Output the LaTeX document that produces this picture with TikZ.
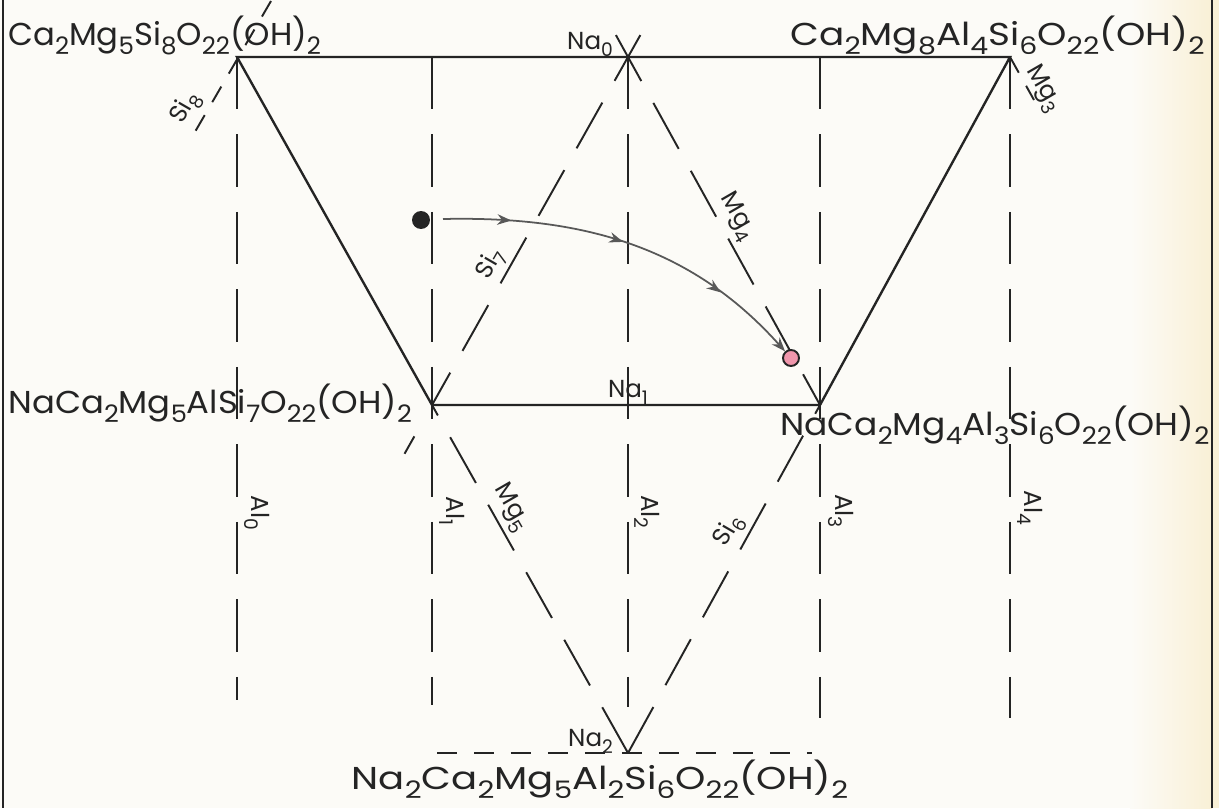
\documentclass[tikz,border=0pt]{standalone}
\usepackage{fontspec}
\setmainfont{Poppins}
\usepackage{graphicx}
\usetikzlibrary{arrows.meta,calc,decorations.markings}
\definecolor{ink}{RGB}{36,36,36}
\definecolor{paper}{RGB}{252,251,247}
\definecolor{cream}{RGB}{249,240,214}
\definecolor{pathgrey}{RGB}{88,88,88}
\definecolor{dotpink}{RGB}{240,150,172}
\newcommand{\ix}[1]{\raisebox{-.55ex}{\scalebox{.76}{#1}}}

\begin{document}
\begin{tikzpicture}[
  x=0.02cm,y=-0.02cm,
  edge/.style={draw=ink,line width=1.35pt},
  guide/.style={draw=ink,line width=1.1pt,dash pattern=on 1.05cm off .5cm},
  shortguide/.style={draw=ink,line width=1.1pt,dash pattern=on .36cm off .3cm},
  baseguide/.style={draw=ink,line width=1.1pt,dash pattern=on .4cm off .34cm},
  formula/.style={font=\fontsize{18}{20}\selectfont,text=ink,inner sep=0pt},
  tag/.style={font=\fontsize{14}{16}\selectfont,text=ink,inner sep=1pt},
  sitag/.style={tag,rotate=60},
  mgtag/.style={tag,rotate=-60},
  altag/.style={tag,rotate=-90},
  dot/.style={circle,draw=ink,line width=1.1pt,minimum size=.32cm,inner sep=0pt},
  flow/.style={
    draw=pathgrey,line width=1pt,-{Stealth[length=8pt,width=6pt]},
    decoration={markings,
      mark=at position .18 with {\arrow{Stealth[length=8pt,width=6pt]}},
      mark=at position .48 with {\arrow{Stealth[length=8pt,width=6pt]}},
      mark=at position .77 with {\arrow{Stealth[length=8pt,width=6pt]}}},
    postaction={decorate}
  }
]
  \useasboundingbox (0,0) rectangle (1219,808);
  \fill[paper] (0,0) rectangle (1219,808);
  \shade[left color=paper,right color=cream] (1130,0) rectangle (1212,808);
  \fill[cream] (1212,0) rectangle (1219,808);
  \draw[ink,line width=1pt] (3,0) -- (3,808);
  \draw[ink,line width=1pt] (1212,0) -- (1212,808);

  % end members and the Na points
  \coordinate (A) at (237,57);
  \coordinate (B) at (1010,57);
  \coordinate (C) at (432,405);
  \coordinate (D) at (820,405);
  \coordinate (na0) at (628,57);
  \coordinate (na1) at (628,405);
  \coordinate (na2) at (628,753);

  % Al lines
  \foreach \n/\x/\y in {0/237/700,1/432/705,2/628/707,3/820/718,4/1010/718}{
    \coordinate (al\n top) at (\x,57);
    \coordinate (al\n bot) at (\x,\y);
    \draw[guide] (al\n top) -- (al\n bot);
  }
  \node[altag] (al0) at (257,513) {Al\ix{0}};
  \node[altag] (al1) at (452,511) {Al\ix{1}};
  \node[altag] (al2) at (647,512) {Al\ix{2}};
  \node[altag] (al3) at (841,511) {Al\ix{3}};
  \node[altag] (al4) at (1030,508) {Al\ix{4}};

  % Si and Mg lines
  \coordinate (si8top) at (271,1);
  \coordinate (si8bot) at (192,137);
  \draw[shortguide] (si8top) -- (si8bot);
  \draw[guide] ($(na0)!-.063!(D)$) -- (D);
  \draw[guide] ($(na0)!-.063!(C)$) -- (C);
  \coordinate (si7a) at ($(C)!-.09!(na0)$);
  \coordinate (si7b) at ($(C)!-.14!(na0)$);
  \draw[edge,line width=1.1pt] (si7a) -- (si7b);
  \draw[guide] (na2) -- (C);
  \draw[guide] (na2) -- (D);
  \coordinate (mg3end) at ($(B)+(24,43)$);
  \draw[shortguide] (B) -- (mg3end);
  \coordinate (na2left) at (437,753);
  \coordinate (na2right) at (812,753);
  \draw[baseguide] (na2left) -- (na2right);

  \node[sitag] (si8) at (186,108) {Si\ix{8}};
  \node[sitag] (si7) at (491,264) {Si\ix{7}};
  \node[sitag] (si6) at (729,531) {Si\ix{6}};
  \node[mgtag] (mg3) at (1043,89) {Mg\ix{3}};
  \node[mgtag] (mg4) at (737,217) {Mg\ix{4}};
  \node[mgtag] (mg5) at (511,508) {Mg\ix{5}};

  % solid outline
  \draw[edge] (A) -- (B) -- (D) -- (C) -- cycle;

  \node[tag,anchor=base east] (na0lbl) at (615,49) {Na\ix{0}};
  \node[tag,anchor=base] (na1lbl) at (628,397) {Na\ix{1}};
  \node[tag,anchor=base east] (na2lbl) at (615,746) {Na\ix{2}};

  \node[formula,anchor=base west] (tremolite) at (8,45)
    {\scalebox{1.02}[1]{Ca\ix{2}Mg\ix{5}Si\ix{8}O\ix{22}(OH)\ix{2}}};
  \node[formula,anchor=base east] (tschermakite) at (1205,45)
    {\scalebox{1.18}[1]{Ca\ix{2}Mg\ix{8}Al\ix{4}Si\ix{6}O\ix{22}(OH)\ix{2}}};
  \node[formula,anchor=base west] (edenite) at (8,413)
    {\scalebox{1.07}[1]{NaCa\ix{2}Mg\ix{5}AlSi\ix{7}O\ix{22}(OH)\ix{2}}};
  \node[formula,anchor=base west] (pargasite) at (780,435)
    {\scalebox{1.09}[1]{NaCa\ix{2}Mg\ix{4}Al\ix{3}Si\ix{6}O\ix{22}(OH)\ix{2}}};
  \node[formula,anchor=base] (bottom) at (600,789)
    {\scalebox{1.22}[1]{Na\ix{2}Ca\ix{2}Mg\ix{5}Al\ix{2}Si\ix{6}O\ix{22}(OH)\ix{2}}};

  % trend
  \node[dot,fill=ink] (startdot) at (421,220) {};
  \node[dot,fill=dotpink] (enddot) at (791,358) {};
  \coordinate (flowstart) at (443,219);
  \draw[flow] (flowstart) .. controls (580,216) and (690,245) .. (enddot);
\end{tikzpicture}
\end{document}
